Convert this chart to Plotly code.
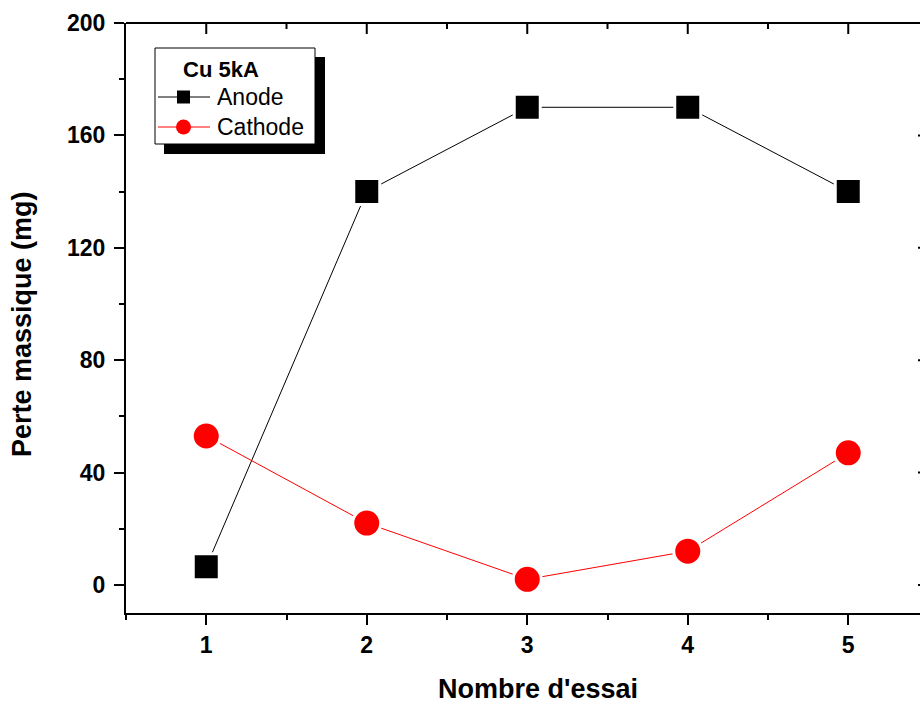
import plotly.graph_objects as go

# Mass loss per trial, Cu electrodes at 5 kA
essais = [1, 2, 3, 4, 5]
anode = [6.5, 140, 170, 170, 140]
cathode = [53, 22, 2, 12, 47]
serie_labels = ["Anode", "Cathode"]
legend_title = "Cu 5kA"

W, H = 920, 705
L, R, T, B = 126, 920, 23, 613          # plot area in pixels
PW, PH = R - L, B - T
XR = [0.5, 0.5 + PW / 160.5]
YR = [-10, 200]
FONT = "Liberation Sans, Arial, sans-serif"


def px(x):
    return (x - L) / PW


def py(y):
    return (B - y) / PH


fig = go.Figure()
fig.add_trace(go.Scatter(
    x=essais, y=anode, mode="lines+markers", name=serie_labels[0],
    line=dict(color="black", width=1),
    marker=dict(symbol="square", size=26, color="black",
                line=dict(color="white", width=3)),
    showlegend=False, cliponaxis=False))
fig.add_trace(go.Scatter(
    x=essais, y=cathode, mode="lines+markers", name=serie_labels[1],
    line=dict(color="red", width=1),
    marker=dict(symbol="circle", size=28, color="red",
                line=dict(color="white", width=3)),
    showlegend=False, cliponaxis=False))

shapes = []
# top frame line with inward ticks
shapes.append(dict(type="line", xref="paper", yref="paper", x0=0, x1=1.01,
                   y0=1, y1=1, line=dict(color="black", width=2)))
for i, xv in enumerate([1, 1.5, 2, 2.5, 3, 3.5, 4, 4.5, 5]):
    ln = 11 if i % 2 == 0 else 6
    shapes.append(dict(type="line", xref="x", yref="paper", x0=xv, x1=xv,
                       y0=1, y1=1 - ln / PH, line=dict(color="black", width=2)))
# inward ticks of the right frame edge
for yv in [0, 40, 80, 120, 160]:
    shapes.append(dict(type="line", xref="paper", yref="y", x0=px(918), x1=1.01,
                       y0=yv, y1=yv, line=dict(color="black", width=2)))

# legend box with drop shadow
shapes.append(dict(type="rect", xref="paper", yref="paper",
                   x0=px(164), x1=px(325), y0=py(154), y1=py(57),
                   fillcolor="black", line=dict(width=0)))
shapes.append(dict(type="rect", xref="paper", yref="paper",
                   x0=px(155), x1=px(315), y0=py(144), y1=py(48),
                   fillcolor="white", line=dict(color="black", width=1)))
# legend glyphs
shapes.append(dict(type="line", xref="paper", yref="paper", x0=px(158), x1=px(210),
                   y0=py(97), y1=py(97), line=dict(color="black", width=1)))
shapes.append(dict(type="rect", xref="paper", yref="paper", x0=px(177), x1=px(190),
                   y0=py(103.5), y1=py(90.5), fillcolor="black", line=dict(width=0)))
shapes.append(dict(type="line", xref="paper", yref="paper", x0=px(158), x1=px(210),
                   y0=py(127), y1=py(127), line=dict(color="red", width=1)))
shapes.append(dict(type="circle", xref="paper", yref="paper", x0=px(176), x1=px(191),
                   y0=py(134.5), y1=py(119.5), fillcolor="red", line=dict(width=0)))

annotations = [
    dict(text="<b>%s</b>" % legend_title, xref="paper", yref="paper",
         x=px(221), y=py(69), xanchor="center", yanchor="middle", showarrow=False,
         font=dict(family=FONT, size=22, color="black")),
    dict(text=serie_labels[0], xref="paper", yref="paper",
         x=px(215), y=py(97), xanchor="left", yanchor="middle", showarrow=False,
         font=dict(family=FONT, size=23, color="black")),
    dict(text=serie_labels[1], xref="paper", yref="paper",
         x=px(215), y=py(127), xanchor="left", yanchor="middle", showarrow=False,
         font=dict(family=FONT, size=23, color="black")),
    dict(text="<b>Nombre d'essai</b>", xref="paper", yref="paper",
         x=px(538), y=py(689), xanchor="center", yanchor="middle", showarrow=False,
         font=dict(family=FONT, size=27, color="black")),
    dict(text="<b>Perte massique (mg)</b>", xref="paper", yref="paper",
         x=px(22), y=py(324), xanchor="center", yanchor="middle", showarrow=False,
         textangle=-90, font=dict(family=FONT, size=27, color="black")),
]

fig.update_layout(
    width=W, height=H,
    margin=dict(l=L, r=W - R, t=T, b=H - B, pad=0),
    paper_bgcolor="white", plot_bgcolor="white",
    shapes=shapes, annotations=annotations,
    showlegend=False,
    xaxis=dict(range=XR, tick0=1, dtick=1, showgrid=False, zeroline=False,
               showline=True, linecolor="black", linewidth=2,
               ticks="outside", ticklen=10, tickwidth=2, tickcolor="black",
               minor=dict(dtick=0.5, ticks="outside", ticklen=5, tickwidth=2,
                          tickcolor="black", showgrid=False),
               tickfont=dict(family=FONT, size=23, color="black"),
               tickprefix="<b>", ticksuffix="</b>"),
    yaxis=dict(range=YR, tick0=0, dtick=40, showgrid=False, zeroline=False,
               showline=True, linecolor="black", linewidth=2,
               ticks="outside", ticklen=10, tickwidth=2, tickcolor="black",
               ticklabelstandoff=4,
               minor=dict(dtick=20, ticks="outside", ticklen=5, tickwidth=2,
                          tickcolor="black", showgrid=False),
               tickfont=dict(family=FONT, size=23, color="black"),
               tickprefix="<b>", ticksuffix="</b>"),
)

fig.write_html("out.html")
